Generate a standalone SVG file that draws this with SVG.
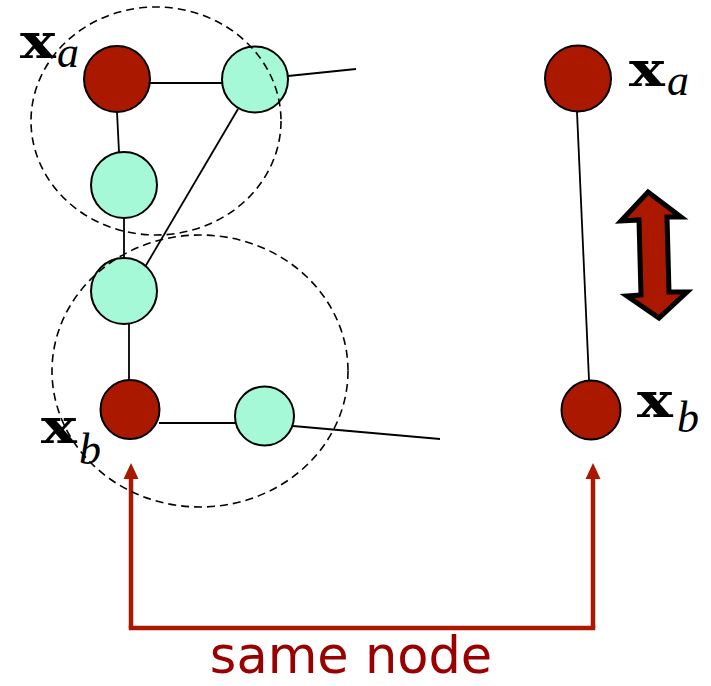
<svg xmlns="http://www.w3.org/2000/svg" width="711" height="686" viewBox="0 0 711 686">
<style>
.edge{stroke:#000;stroke-width:1.8;fill:none}
.red{fill:#aa1800;stroke:#000;stroke-width:2}
.teal{fill:#a6f9d7;stroke:#000;stroke-width:2}
.hood{fill:none;stroke:#000;stroke-width:1.6;stroke-dasharray:8 5}
.bx{font-family:"DejaVu Serif",serif;font-weight:bold;font-size:48px;fill:#000}
.it{font-family:"Liberation Serif",serif;font-style:italic;font-size:44px;fill:#000}
.link{stroke:#aa1800;stroke-width:4.5;fill:none}
</style>
<rect width="711" height="686" fill="#fff"/>
<g id="connectors">
<line class="edge" x1="150" y1="83" x2="222" y2="83"/>
<line class="edge" x1="288" y1="76" x2="356" y2="69"/>
<line class="edge" x1="117" y1="112" x2="119" y2="152"/>
<line class="edge" x1="238" y1="109" x2="145" y2="267"/>
<line class="edge" x1="124" y1="218" x2="124" y2="258"/>
<line class="edge" x1="129" y1="324" x2="129" y2="380"/>
<line class="edge" x1="159" y1="423" x2="235" y2="423"/>
<line class="edge" x1="293" y1="426" x2="440" y2="439"/>
<line class="edge" x1="577" y1="112" x2="589" y2="380"/>
<polyline class="link" points="131,628 131,478"/>
<polyline class="link" points="593,628 593,478"/>
<line class="link" x1="128.75" y1="628" x2="595.25" y2="628"/>
<path d="M131,463 L138.5,479 L123.5,479 Z" fill="#aa1800"/>
<path d="M593,463 L600.5,479 L585.5,479 Z" fill="#aa1800"/>
</g>
<g id="node-xa-left"><circle class="red" cx="117" cy="79" r="33"/></g>
<g id="node-t1"><circle class="teal" cx="255" cy="79.5" r="33"/></g>
<g id="node-t2"><circle class="teal" cx="124" cy="185" r="33"/></g>
<g id="node-t3"><circle class="teal" cx="124" cy="291" r="33"/></g>
<g id="node-xb-left"><circle class="red" cx="130" cy="409.5" r="29.5"/></g>
<g id="node-t4"><circle class="teal" cx="264.5" cy="416" r="29.5"/></g>
<g id="node-xa-right"><circle class="red" cx="578" cy="78.5" r="33"/></g>
<g id="node-xb-right"><circle class="red" cx="591" cy="410" r="29.5"/></g>
<g id="hoods">
<ellipse class="hood" cx="156" cy="121" rx="125" ry="114"/>
<ellipse class="hood" cx="200" cy="371" rx="148" ry="136"/>
</g>
<g id="double-arrow">
<path d="M648,192 L681,217 L667,217 L669,292 L687,292 L659,318 L627,296 L641,295 L639,220 L621,221 Z" fill="#aa1800" stroke="#000" stroke-width="5" stroke-linejoin="miter"/>
</g>
<g id="labels">
<text class="bx" transform="translate(20,58) scale(1.25,1)">x</text>
<text class="it" x="57" y="67">a</text>
<text class="bx" transform="translate(629,86) scale(1.25,1)">x</text>
<text class="it" x="667" y="95">a</text>
<text class="bx" transform="translate(41,443) scale(1.25,1)">x</text>
<text class="it" x="79" y="464">b</text>
<text class="bx" transform="translate(637,417) scale(1.25,1)">x</text>
<text class="it" x="677" y="432">b</text>
<text x="351" y="673" text-anchor="middle" font-family="DejaVu Sans, sans-serif" font-size="51" fill="#9a0000">same node</text>
</g>
</svg>
